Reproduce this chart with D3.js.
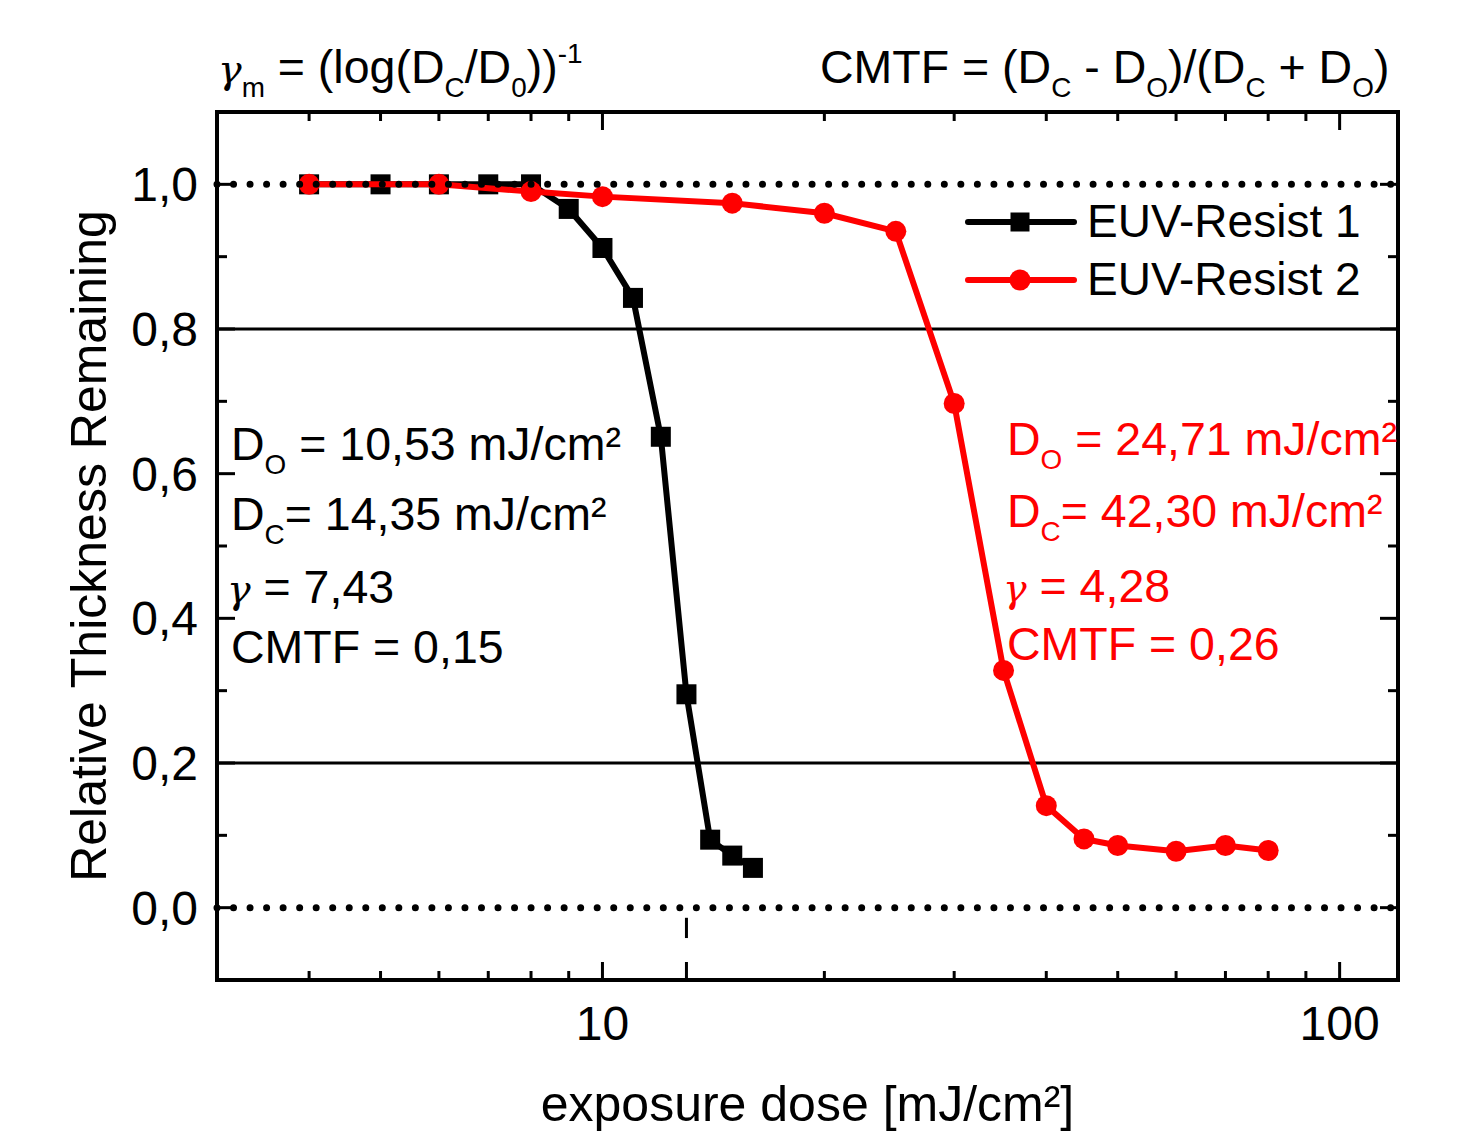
<!DOCTYPE html>
<html>
<head>
<meta charset="utf-8">
<script src="https://cdn.jsdelivr.net/npm/d3@7"></script>
<style>
body { margin: 0; background: #fff; }
text { font-family: "Liberation Sans", Arial, sans-serif; }
.greek { font-family: "DejaVu Serif", "Liberation Serif", serif; font-style: italic; }
</style>
</head>
<body>
<svg id="chart" width="1458" height="1134"></svg>
<script>
// values
var dose1 = [4, 5, 6, 7, 8, 9, 10, 11, 12, 13, 14, 15, 16]
var thick1 = [1.0, 1.0, 1.0, 1.0, 1.0, 0.966, 0.912, 0.843, 0.651, 0.295, 0.094, 0.072, 0.055]
var dose2 = [4, 6, 8, 10, 15, 20, 25, 30, 35, 40, 45, 50, 60, 70, 80]
var thick2 = [1.0, 1.0, 0.99, 0.983, 0.974, 0.96, 0.935, 0.697, 0.328, 0.141, 0.095, 0.086, 0.078, 0.086, 0.079]
var seriesNames = ["EUV-Resist 1", "EUV-Resist 2"]
var xMajor = [10, 100]
var xMinor = [4, 5, 6, 7, 8, 9, 20, 30, 40, 50, 60, 70, 80, 90]
var yMajor = [0, 0.2, 0.4, 0.6, 0.8, 1.0]
var yMinor = [0.1, 0.3, 0.5, 0.7, 0.9]
var dottedLevels = [0, 1]
var solidLevels = [0.2, 0.8]
var markDose = 13

var svg = d3.select("#chart")
var pLeft = 217, pRight = 1398, pTop = 112, pBottom = 980

var x = d3.scaleLog().domain([3, 120]).range([pLeft, pRight])
var y = d3.scaleLinear().domain([-0.1, 1.1]).range([pBottom, pTop])
var comma = function(v) { return d3.format(".1f")(v).replace(".", ",") }

// reference lines
svg.selectAll(".solid").data(solidLevels).join("line")
    .attr("x1", pLeft).attr("x2", pRight)
    .attr("y1", function(d) { return y(d) }).attr("y2", function(d) { return y(d) })
    .attr("stroke", "#000").attr("stroke-width", 2.8)

// series
var line = d3.line().x(function(d) { return x(d[0]) }).y(function(d) { return y(d[1]) })
var pts1 = d3.zip(dose1, thick1)
var pts2 = d3.zip(dose2, thick2)

svg.append("path").datum(pts1).attr("d", line)
    .attr("fill", "none").attr("stroke", "#000").attr("stroke-width", 6).attr("stroke-linejoin", "round")
svg.selectAll(".sq").data(pts1).join("rect")
    .attr("x", function(d) { return x(d[0]) - 10 }).attr("y", function(d) { return y(d[1]) - 10 })
    .attr("width", 20).attr("height", 20).attr("fill", "#000")

svg.append("path").datum(pts2).attr("d", line)
    .attr("fill", "none").attr("stroke", "#f00").attr("stroke-width", 6).attr("stroke-linejoin", "round")
svg.selectAll(".ci").data(pts2).join("circle")
    .attr("cx", function(d) { return x(d[0]) }).attr("cy", function(d) { return y(d[1]) })
    .attr("r", 10.5).attr("fill", "#f00")

// dotted lines at 0 and 1
svg.selectAll(".dot").data(dottedLevels).join("line")
    .attr("x1", pLeft).attr("x2", pRight)
    .attr("y1", function(d) { return y(d) }).attr("y2", function(d) { return y(d) })
    .attr("stroke", "#000").attr("stroke-width", 7).attr("stroke-linecap", "round")
    .attr("stroke-dasharray", "0 16.53")

// mark at dose 13
svg.append("line").attr("x1", x(markDose)).attr("x2", x(markDose))
    .attr("y1", y(-0.014)).attr("y2", y(-0.042)).attr("stroke", "#000").attr("stroke-width", 3)

// frame + ticks
svg.append("rect").attr("x", pLeft).attr("y", pTop).attr("width", pRight - pLeft).attr("height", pBottom - pTop)
    .attr("fill", "none").attr("stroke", "#000").attr("stroke-width", 4)

function xTicks(vals, len) {
    vals.forEach(function(v) {
        svg.append("line").attr("x1", x(v)).attr("x2", x(v)).attr("y1", pBottom).attr("y2", pBottom - len)
            .attr("stroke", "#000").attr("stroke-width", 3)
        svg.append("line").attr("x1", x(v)).attr("x2", x(v)).attr("y1", pTop).attr("y2", pTop + len)
            .attr("stroke", "#000").attr("stroke-width", 3)
    })
}
function yTicks(vals, len) {
    vals.forEach(function(v) {
        svg.append("line").attr("x1", pLeft).attr("x2", pLeft + len).attr("y1", y(v)).attr("y2", y(v))
            .attr("stroke", "#000").attr("stroke-width", 3)
        svg.append("line").attr("x1", pRight).attr("x2", pRight - len).attr("y1", y(v)).attr("y2", y(v))
            .attr("stroke", "#000").attr("stroke-width", 3)
    })
}
xTicks(xMajor, 18)
xTicks(xMinor, 9)
yTicks(yMajor, 18)
yTicks(yMinor, 10)
svg.append("line").attr("x1", x(markDose)).attr("x2", x(markDose)).attr("y1", pBottom).attr("y2", pBottom - 18)
    .attr("stroke", "#000").attr("stroke-width", 3)

// tick labels
svg.selectAll(".xl").data(xMajor).join("text")
    .attr("x", function(d) { return x(d) }).attr("y", 1040)
    .attr("text-anchor", "middle").attr("font-size", 48).text(function(d) { return d })
svg.selectAll(".yl").data(yMajor).join("text")
    .attr("x", 198).attr("y", function(d) { return y(d) + 17 })
    .attr("text-anchor", "end").attr("font-size", 48).text(comma)

// axis titles
svg.append("text").attr("x", (pLeft + pRight) / 2).attr("y", 1121)
    .attr("text-anchor", "middle").attr("font-size", 50).text("exposure dose [mJ/cm²]")
svg.append("text").attr("transform", "translate(106," + (pTop + pBottom) / 2 + ") rotate(-90)")
    .attr("text-anchor", "middle").attr("font-size", 50).text("Relative Thickness Remaining")

// rich text helper: parts = [[text, kind]] kind: n normal, s sub, p sup, g greek
function rich(px, py, parts, size, color) {
    var t = svg.append("text").attr("x", px).attr("y", py).attr("font-size", size).attr("fill", color)
    var shift = 0
    parts.forEach(function(p) {
        var s = t.append("tspan").text(p[0])
        var want = 0
        if (p[1] == "s") { want = 14; s.attr("font-size", size * 0.6) }
        if (p[1] == "p") { want = -20; s.attr("font-size", size * 0.6) }
        if (p[1] == "g") { s.attr("class", "greek").attr("font-size", size * 0.85) }
        if (want != shift) { s.attr("dy", want - shift); shift = want }
    })
    return t
}

rich(218, 83, [["γ", "g"], ["m", "s"], [" = (log(D", "n"], ["C", "s"], ["/D", "n"], ["0", "s"], ["))", "n"], ["-1", "p"]], 46.5, "#000")
rich(820, 83, [["CMTF = (D", "n"], ["C", "s"], [" - D", "n"], ["O", "s"], [")/(D", "n"], ["C", "s"], [" + D", "n"], ["O", "s"], [")", "n"]], 46.5, "#000")

function block(px, base, doText, dcText, gText, cText, color) {
    rich(px, base[0], [["D", "n"], ["O", "s"], [" = " + doText, "n"]], 46.5, color)
    rich(px, base[1], [["D", "n"], ["C", "s"], ["= " + dcText, "n"]], 46.5, color)
    rich(px - 4, base[2], [["γ", "g"], [" = " + gText, "n"]], 46.5, color)
    rich(px, base[3], [["CMTF = " + cText, "n"]], 46.5, color)
}
block(231, [460, 530, 603, 663], "10,53 mJ/cm²", "14,35 mJ/cm²", "7,43", "0,15", "#000")
block(1007, [455, 527, 602, 660], "24,71 mJ/cm²", "42,30 mJ/cm²", "4,28", "0,26", "#f00")

// legend
var legY = [222, 280]
var legColor = ["#000", "#f00"]
seriesNames.forEach(function(name, i) {
    svg.append("line").attr("x1", 968).attr("x2", 1074).attr("y1", legY[i]).attr("y2", legY[i])
        .attr("stroke", legColor[i]).attr("stroke-width", 6).attr("stroke-linecap", "round")
    if (i == 0) {
        svg.append("rect").attr("x", 1010.5).attr("y", legY[i] - 9.5).attr("width", 19).attr("height", 19).attr("fill", "#000")
    } else {
        svg.append("circle").attr("cx", 1020).attr("cy", legY[i]).attr("r", 10.5).attr("fill", "#f00")
    }
    svg.append("text").attr("x", 1087).attr("y", legY[i] + 15).attr("font-size", 46).text(name)
})
</script>
</body>
</html>
